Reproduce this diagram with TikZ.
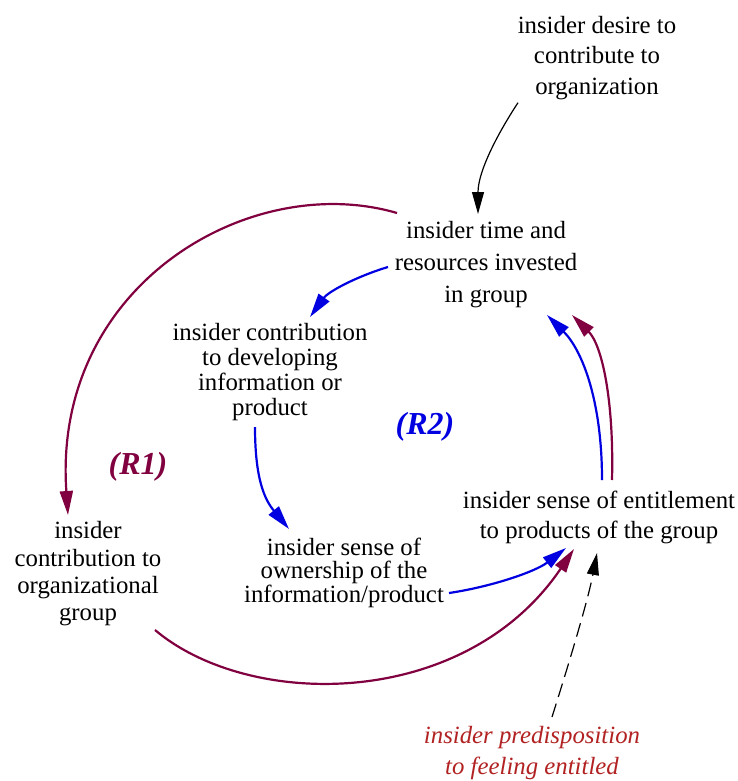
\documentclass[tikz,border=0pt]{standalone}
\usepackage{fontspec}
\setmainfont{Liberation Serif}
\usetikzlibrary{arrows.meta,calc}
\definecolor{maroonc}{RGB}{128,0,64}
\definecolor{bluec}{RGB}{0,0,225}
\definecolor{predc}{RGB}{178,34,34}
\tikzset{
  lbl/.style={align=center,inner sep=0pt,text=black},
  marrow/.style={draw=maroonc,line width=2.2pt,-{Triangle[length=24pt,width=13pt]}},
  barrow/.style={draw=bluec,line width=2.2pt,-{Triangle[length=24pt,width=13pt]}},
  karrow/.style={draw=black,line width=1.2pt,-{Triangle[length=22pt,width=12pt]}},
  kdash/.style={karrow,dash pattern=on 14pt off 7pt},
  loopname/.style={inner sep=0pt,font=\fontsize{32}{36}\selectfont\bfseries\itshape}
}
\begin{document}
\begin{tikzpicture}[x=1pt,y=-1pt]
\useasboundingbox[fill=white] (0,0) rectangle (738,781);

\node[lbl,font=\fontsize{24.8}{30.5}\selectfont] (desire) at (597,57.7)
  {insider desire to\\contribute to\\organization};
\node[lbl,font=\fontsize{24.8}{32}\selectfont] (time) at (486,265)
  {insider time and\\resources invested\\in group};
\node[lbl,font=\fontsize{24.8}{25.3}\selectfont] (contrib) at (270,372)
  {insider contribution\\to developing\\information or\\product};
\node[lbl,font=\fontsize{24.8}{27.3}\selectfont] (org) at (88,574)
  {insider\\contribution to\\organizational\\group};
\node[lbl,font=\fontsize{24.8}{22.5}\selectfont] (own) at (344,573)
  {insider sense of\\ownership of the\\information/product};
\node[lbl,font=\fontsize{24.8}{30}\selectfont] (ent) at (599,517)
  {insider sense of entitlement\\to products of the group};
\node[lbl,text=predc,font=\fontsize{24.8}{31}\selectfont\itshape] (pred) at (532,753)
  {insider predisposition\\to feeling entitled};
\node[loopname,text=maroonc] (r1) at (138,467) {(R1)};
\node[loopname,text=bluec] (r2) at (425,427) {(R2)};

% black: desire -> time
\draw[karrow] ($(desire)+(-79,45)$) .. controls (500,130) and (478,170) .. ($(time)+(-8,-51)$);
% R1 loop
\draw[marrow] ($(time)+(-89,-52)$) .. controls (250,170) and (52,285) .. ($(org)+(-20,-59)$);
\draw[marrow] ($(org)+(67,56)$) .. controls (250,710) and (465,710) .. ($(ent)+(-25,32)$);
\draw[marrow] ($(ent)+(13,-37)$) .. controls (614,400) and (602,345) .. ($(time)+(86,50)$);
% R2 loop
\draw[barrow] ($(time)+(-98,2)$) .. controls (355,277) and (328,292) .. ($(contrib)+(40,-55)$);
\draw[barrow] ($(contrib)+(-15,55)$) .. controls (255,480) and (265,500) .. ($(own)+(-55,-44)$);
\draw[barrow] ($(own)+(105,20)$) .. controls (490,587) and (535,572) .. ($(ent)+(-33,31)$);
\draw[barrow] ($(ent)+(3,-37)$) .. controls (602,400) and (582,350) .. ($(time)+(61,50)$);
% black dashed: predisposition -> entitlement
\draw[kdash] ($(pred)+(20,-36)$) .. controls (570,660) and (588,600) .. ($(ent)+(-2,36)$);
\end{tikzpicture}
\end{document}
